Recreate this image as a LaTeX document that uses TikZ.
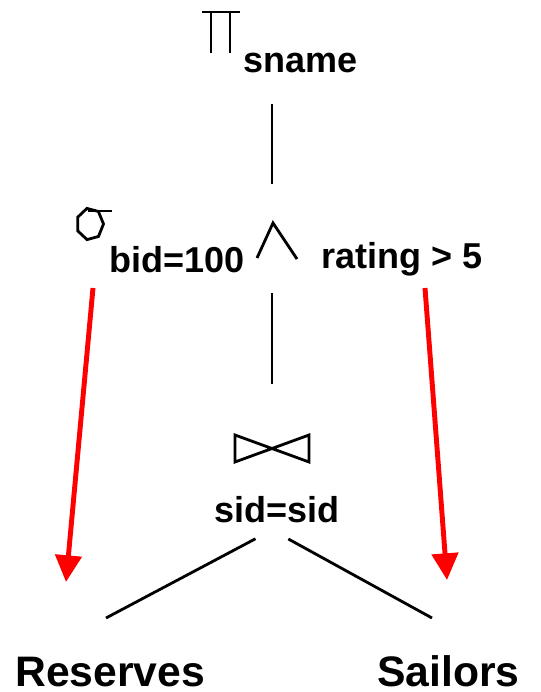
\documentclass[tikz,border=0pt]{standalone}
\usepackage{fontspec}
\setmainfont{Liberation Sans}
\usetikzlibrary{arrows.meta,calc,positioning}
\tikzset{
  plan edge/.style={line width=2.1pt,black},
  op symbol/.style={line width=2.1pt,black,line join=miter},
  push arrow/.style={-{Triangle[length=20pt,width=19.5pt]},red,line width=3.7pt},
  plan label/.style={inner sep=0pt,font=\bfseries\fontsize{27}{32}\selectfont},
  leaf label/.style={inner sep=0pt,font=\bfseries\fontsize{32}{38}\selectfont}
}
\begin{document}
\begin{tikzpicture}[x=0.75pt,y=-0.75pt]
    \useasboundingbox (0,0) rectangle (541,692);
    % operator positions
    \coordinate (proj) at (272,48);
    \coordinate (sel) at (272,240);
    \coordinate (join) at (272,448);
    \coordinate (joinout) at (272,530);
    \coordinate (resin) at (106,618);
    \coordinate (sailin) at (432,618);
    \coordinate (bidfrom) at (93,288);
    \coordinate (bidto) at (66,582);
    \coordinate (ratefrom) at (425,288);
    \coordinate (rateto) at (447,580);
    % labels
    \node[plan label,anchor=base west] (sname) at (243,73) {sname};
    \node[plan label,anchor=base west] (bidcond) at (109,272) {bid=100};
    \node[plan label,anchor=base west] (ratecond) at (321,268) {rating > 5};
    \node[plan label,anchor=base] (joincond) at (277,522) {sid=sid};
    \node[leaf label,anchor=base west] (reserves) at (15,686) {Reserves};
    \node[leaf label,anchor=base west] (sailors) at (377,686) {Sailors};
    % symbols
    \draw[op symbol] (202,12) -- (240,12);
    \draw[op symbol] (211,12) -- (211,53);
    \draw[op symbol] (230,12) -- (230,53);
    \draw[op symbol] ($(90,224)+(-103:13.5 and 16)$)
      \foreach \k in {1,...,6} { -- ($(90,224)+({-103+\k*51.43}:13.5 and 16)$) } -- cycle;
    \draw[op symbol] (88,211) -- (112,211);
    \draw[op symbol] (257,258) -- (273,223) -- (297,259);
    \draw[op symbol] (235,435) -- (309,462) -- (309,435) -- (235,462) -- cycle;
    % tree edges
    \draw[plan edge,shorten <=42,shorten >=42] (proj) -- (sel);
    \draw[plan edge,shorten <=40,shorten >=48] (sel) -- (join);
    \draw[plan edge,shorten <=14] (joinout) -- (resin);
    \draw[plan edge,shorten <=14] (joinout) -- (sailin);
    % pushed selections
    \draw[push arrow] (bidfrom) -- (bidto);
    \draw[push arrow] (ratefrom) -- (rateto);
\end{tikzpicture}
\end{document}
